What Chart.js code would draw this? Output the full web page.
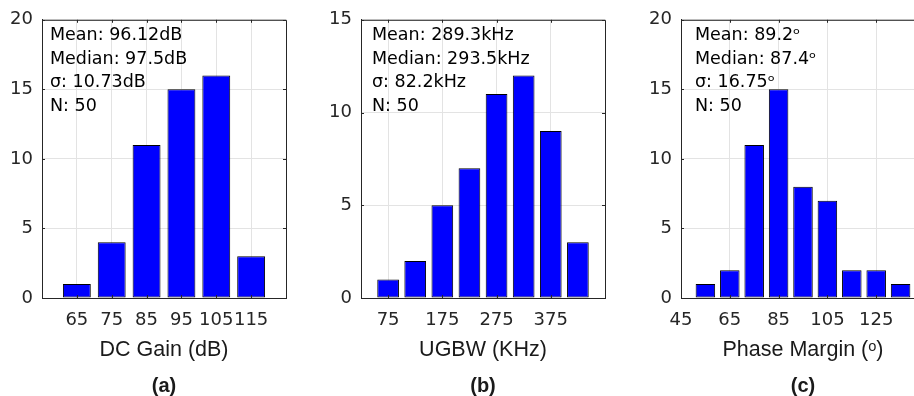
<!DOCTYPE html>
<html>
<head>
<meta charset="utf-8">
<script src="https://cdn.jsdelivr.net/npm/chart.js@4.4.1/dist/chart.umd.min.js"></script>
<style>
  html, body { margin: 0; padding: 0; background: #fff; width: 914px; height: 396px; overflow: hidden; position: relative; }
  canvas { position: absolute; top: 0; }
  #chart-a { left: 0; }
  #chart-b { left: 300px; }
  #chart-c { left: 600px; }
</style>
</head>
<body>
<canvas id="chart-a" width="300" height="396"></canvas>
<canvas id="chart-b" width="310" height="396"></canvas>
<canvas id="chart-c" width="340" height="396"></canvas>
<script>
// (a) DC gain
const gainBins = [65, 75, 85, 95, 105, 115];
const gainCounts = [1, 4, 11, 15, 16, 3];
const gainTicks = [65, 75, 85, 95, 105, 115];
const gainStats = ["Mean: 96.12dB", "Median: 97.5dB", "σ: 10.73dB", "N: 50"];

// (b) UGBW
const ugbwBins = [75, 125, 175, 225, 275, 325, 375, 425];
const ugbwCounts = [1, 2, 5, 7, 11, 12, 9, 3];
const ugbwTicks = [75, 175, 275, 375];
const ugbwStats = ["Mean: 289.3kHz", "Median: 293.5kHz", "σ: 82.2kHz", "N: 50"];

// (c) phase margin
const pmBins = [55, 65, 75, 85, 95, 105, 115, 125, 135];
const pmCounts = [1, 2, 11, 15, 8, 7, 2, 2, 1];
const pmTicks = [45, 65, 85, 105, 125];
const pmStats = ["Mean: 89.2ᵒ", "Median: 87.4ᵒ", "σ: 16.75ᵒ", "N: 50"];

const yTicks20 = [0, 5, 10, 15, 20];
const yTicks15 = [0, 5, 10, 15];

const H = 396;
const AXIS_TOP = 17;
const AXIS_BOTTOM = 298;
const AXIS_COLOR = "#262626";
const GRID_COLOR = "#e3e3e3";
const TICK_FONT = { family: "'DejaVu Sans', sans-serif", size: 18 };

const frame = {
  id: "frame",
  afterDraw(chart, args, opts) {
    const { ctx, chartArea: a, scales } = chart;
    ctx.save();
    ctx.strokeStyle = AXIS_COLOR;
    ctx.lineWidth = 1;
    ctx.beginPath();
    ctx.moveTo(a.left, a.top + 0.5);
    ctx.lineTo(a.right + 0.5, a.top + 0.5);
    ctx.lineTo(a.right + 0.5, a.bottom);
    // inward ticks on all four sides
    scales.x.ticks.forEach((t) => {
      const px = Math.round(scales.x.getPixelForValue(t.value)) + 0.5;
      ctx.moveTo(px, a.bottom); ctx.lineTo(px, a.bottom - 3);
      ctx.moveTo(px, a.top); ctx.lineTo(px, a.top + 3);
    });
    scales.y.ticks.forEach((t) => {
      const py = Math.round(scales.y.getPixelForValue(t.value)) + 0.5;
      ctx.moveTo(a.left, py); ctx.lineTo(a.left + 3, py);
      ctx.moveTo(a.right, py); ctx.lineTo(a.right - 3, py);
    });
    ctx.stroke();

    // stats text
    ctx.fillStyle = "#000";
    ctx.font = "17.5px 'DejaVu Sans', sans-serif";
    ctx.textBaseline = "middle";
    ctx.textAlign = "left";
    opts.stats.forEach((line, i) => {
      ctx.fillText(line, a.left + opts.textDx, a.top + 16 + i * 23.5);
    });

    // axis title and panel tag
    const cx = (a.left + a.right) / 2;
    ctx.textAlign = "center";
    ctx.fillStyle = "#1a1a1a";
    ctx.font = "21.5px 'Liberation Sans', Arial, sans-serif";
    ctx.fillText(opts.title, cx, 350);
    ctx.font = "bold 20px 'Liberation Sans', Arial, sans-serif";
    ctx.fillText(opts.tag, cx, 386);
    ctx.restore();
  },
};

function makePanel(id, cfg) {
  const canvas = document.getElementById(id);
  const points = cfg.bins.map((b, i) => ({ x: b, y: cfg.counts[i] }));
  return new Chart(canvas.getContext("2d"), {
    type: "bar",
    data: {
      datasets: [
        {
          data: points,
          backgroundColor: "#0000ff",
          borderColor: "#000000",
          borderWidth: 1,
          borderSkipped: false,
          barPercentage: 0.8,
          categoryPercentage: 1,
        },
      ],
    },
    options: {
      animation: false,
      responsive: false,
      layout: {
        padding: { top: AXIS_TOP, left: 0, bottom: 0, right: canvas.width - cfg.axisRight },
      },
      plugins: {
        legend: { display: false },
        tooltip: { enabled: false },
        frame: { stats: cfg.stats, title: cfg.title, tag: cfg.tag, textDx: cfg.textDx },
      },
      scales: {
        x: {
          type: "linear",
          min: cfg.xMin,
          max: cfg.xMax,
          offset: false,
          afterBuildTicks: (s) => { s.ticks = cfg.xTicks.map((v) => ({ value: v })); },
          afterFit: (s) => { s.height = H - AXIS_BOTTOM; },
          grid: { color: GRID_COLOR, drawTicks: false, offset: false },
          border: { color: AXIS_COLOR, width: 1 },
          ticks: { font: TICK_FONT, color: AXIS_COLOR, padding: 12, maxRotation: 0, autoSkip: false },
        },
        y: {
          min: 0,
          max: cfg.yMax,
          afterBuildTicks: (s) => { s.ticks = cfg.yTicks.map((v) => ({ value: v })); },
          afterFit: (s) => { s.width = cfg.axisLeft; },
          grid: { color: GRID_COLOR, drawTicks: false },
          border: { color: AXIS_COLOR, width: 1 },
          ticks: { font: TICK_FONT, color: AXIS_COLOR, padding: 9 },
        },
      },
    },
    plugins: [frame],
  });
}

makePanel("chart-a", {
  bins: gainBins, counts: gainCounts, xTicks: gainTicks, yTicks: yTicks20,
  xMin: 55, xMax: 125, yMax: 20,
  stats: gainStats, title: "DC Gain (dB)", tag: "(a)",
  axisLeft: 42, axisRight: 286, textDx: 8,
});

makePanel("chart-b", {
  bins: ugbwBins, counts: ugbwCounts, xTicks: ugbwTicks, yTicks: yTicks15,
  xMin: 25, xMax: 475, yMax: 15,
  stats: ugbwStats, title: "UGBW (KHz)", tag: "(b)",
  axisLeft: 61, axisRight: 305, textDx: 11,
});

makePanel("chart-c", {
  bins: pmBins, counts: pmCounts, xTicks: pmTicks, yTicks: yTicks20,
  xMin: 45, xMax: 145, yMax: 20,
  stats: pmStats, title: "Phase Margin (ᵒ)", tag: "(c)",
  axisLeft: 81, axisRight: 325, textDx: 14,
});
</script>
</body>
</html>
